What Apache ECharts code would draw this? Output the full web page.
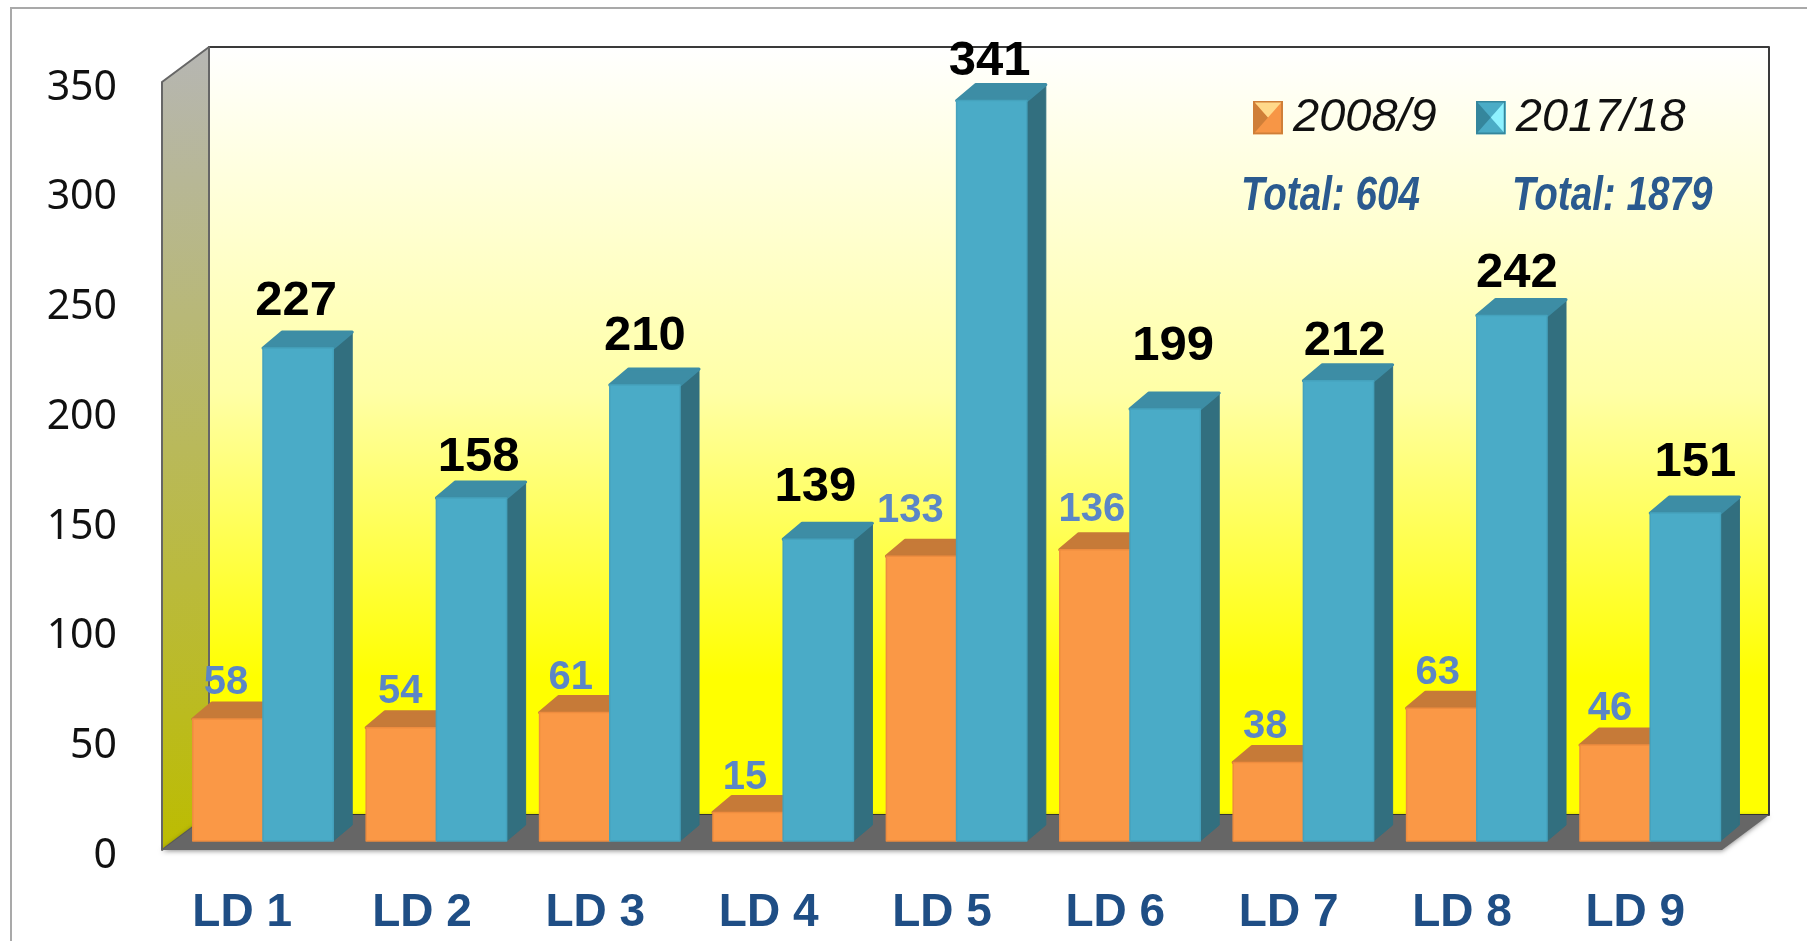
<!DOCTYPE html>
<html>
<head>
<meta charset="utf-8">
<style>
  html, body { margin: 0; padding: 0; background: #fff; }
  #main { width: 1807px; height: 941px; }
</style>
<script src="https://cdn.jsdelivr.net/npm/echarts@6/dist/echarts.min.js"></script>
</head>
<body>
<div id="main"></div>
<script>
var categories = ['LD 1', 'LD 2', 'LD 3', 'LD 4', 'LD 5', 'LD 6', 'LD 7', 'LD 8', 'LD 9'];
var values2008 = [58, 54, 61, 15, 133, 136, 38, 63, 46];
var values2017 = [227, 158, 210, 139, 341, 199, 212, 242, 151];
var seriesNames = ['2008/9', '2017/18'];
var totals = ['Total: 604', 'Total: 1879'];

// the value labels were placed by hand in the original, so each one has its own nudge
var labelShift2008 = [-2, -1, -4, -3, -11, -3, -3, -4, -5];
var labelRise2008 = [36, 36, 35, 34, 45, 40, 36, 35, 36];
var labelShift2017 = [-2, 7, 0, -3, -2, 8, 6, 5, 10];
var labelRise2017 = [47, 40, 49, 52, 39, 62, 39, 42, 51];

var DEPTH_X = 19, DEPTH_Y = 16;     // bar depth
var WALL_X = 47, WALL_Y = 35;       // depth of the chart box

function poly(points, fill, extra) {
  var shape = { type: 'polygon', shape: { points: points }, style: { fill: fill, lineJoin: 'round' } };
  if (extra) for (var k in extra) shape.style[k] = extra[k];
  return shape;
}

function renderFrame(params, api) {
  var c = params.coordSys;
  var l = c.x, r = c.x + c.width, t = c.y, b = c.y + c.height;
  return {
    type: 'group',
    children: [
      poly([[l + WALL_X, t - WALL_Y], [r + WALL_X, t - WALL_Y], [r + WALL_X, b - WALL_Y], [l + WALL_X, b - WALL_Y]], {
        type: 'linear', x: 0, y: 0, x2: 0, y2: 1,
        colorStops: [
          { offset: 0, color: '#ffffff' },
          { offset: 0.45, color: '#ffffa6' },
          { offset: 0.82, color: '#ffff00' },
          { offset: 1, color: '#ffff00' }
        ]
      }, { stroke: '#3a3a3a', lineWidth: 2 }),
      poly([[l, t], [l + WALL_X, t - WALL_Y], [l + WALL_X, b - WALL_Y], [l, b]], {
        type: 'linear', x: 0, y: 0, x2: 0.25, y2: 1,
        colorStops: [
          { offset: 0, color: '#b6b6b4' },
          { offset: 1, color: '#bcbc00' }
        ]
      }, { stroke: '#666666', lineWidth: 2 }),
      poly([[l, b], [l + WALL_X, b - WALL_Y], [r + WALL_X, b - WALL_Y], [r, b]], '#666666', {
        shadowBlur: 5, shadowColor: 'rgba(0,0,0,0.45)', shadowOffsetY: 1
      })
    ]
  };
}

function makeBarRenderer(slot, colors, shift, rise, font, labelColor, topInset) {
  return function (params, api) {
    var idx = api.value(0), val = api.value(1);
    var band = api.size([1, 0])[0];
    var w = band * 0.405;
    var top = api.coord([idx, val]);
    var base = api.coord([idx, 0]);
    var x0 = top[0] + slot * w, x1 = x0 + w;
    var y0 = top[1] + topInset, y1 = base[1];
    return {
      type: 'group',
      children: [
        poly([[x1, y0], [x1 + DEPTH_X, y0 - DEPTH_Y], [x1 + DEPTH_X, y1 - DEPTH_Y], [x1, y1]], colors.side,
          { stroke: colors.side, lineWidth: 1 }),
        poly([[x0, y0], [x0 + DEPTH_X, y0 - DEPTH_Y], [x1 + DEPTH_X, y0 - DEPTH_Y], [x1, y0]], colors.top,
          { stroke: colors.top, lineWidth: 3 }),
        poly([[x0, y0], [x1, y0], [x1, y1], [x0, y1]], colors.front,
          { stroke: colors.edge, lineWidth: 1.5 }),
        {
          type: 'text',
          z2: 10,
          style: {
            text: String(val),
            x: (x0 + x1) / 2 + shift[idx],
            y: y0 - rise[idx],
            align: 'center',
            verticalAlign: 'middle',
            font: font,
            fill: labelColor
          }
        }
      ]
    };
  };
}

function toPairs(values) {
  return values.map(function (v, i) { return [i, v]; });
}

function swatch(base, dark, light, points) {
  var svg = '<svg xmlns="http://www.w3.org/2000/svg" width="30" height="34" viewBox="0 0 30 34">' +
    '<rect width="30" height="34" fill="' + base + '"/>' +
    '<polygon points="0,0 15,17 0,34" fill="' + dark + '"/>' +
    '<polygon points="' + points + '" fill="' + light + '"/>' +
    '<rect x="1" y="1" width="28" height="32" fill="none" stroke="' + dark + '" stroke-width="2"/></svg>';
  return 'image://data:image/svg+xml;charset=utf-8,' + encodeURIComponent(svg);
}

function totalText(text, x) {
  return {
    type: 'text',
    silent: true,
    z: 5,
    x: x,
    y: 197,
    scaleX: 0.805,
    style: {
      text: text,
      verticalAlign: 'middle',
      font: 'italic bold 48px "Liberation Sans"',
      fill: '#2a5a8f'
    }
  };
}

var chart = echarts.init(document.getElementById('main'));
chart.setOption({
  animation: false,
  backgroundColor: '#ffffff',
  textStyle: { fontFamily: '"Liberation Sans", Arial, sans-serif' },
  grid: [
    { left: 162, right: 85, top: 82, bottom: 91 },
    { left: 176.3, width: 1560.6, top: 81, bottom: 100 }
  ],
  xAxis: [
    {
      type: 'category',
      gridIndex: 0,
      data: categories,
      axisLine: { show: false },
      axisTick: { show: false },
      axisLabel: {
        interval: 0,
        margin: 40,
        formatter: function (v, i) {
          // the first label sits a bit left of its slot in the original
          return i === 0 ? '{first|' + v + '}' : '{cat|' + v + '}';
        },
        rich: {
          cat: { fontFamily: '"Liberation Sans"', fontWeight: 'bold', fontSize: 46, color: '#1f4e85' },
          first: { fontFamily: '"Liberation Sans"', fontWeight: 'bold', fontSize: 46, color: '#1f4e85', padding: [0, 13, 0, 0] }
        }
      }
    },
    {
      type: 'category',
      gridIndex: 1,
      data: categories,
      show: false
    }
  ],
  yAxis: [
    {
      type: 'value',
      gridIndex: 0,
      min: 0,
      max: 350,
      interval: 50,
      axisLine: { show: false },
      axisTick: { show: false },
      splitLine: { show: false },
      axisLabel: {
        margin: 45,
        formatter: '{tick|{value}}',
        rich: {
          tick: { fontFamily: '"Noto Sans"', fontSize: 41, color: '#111111', padding: [12, 0, 0, 0] }
        }
      }
    },
    {
      type: 'value',
      gridIndex: 1,
      min: 0,
      max: 350,
      interval: 50,
      show: false
    }
  ],
  legend: {
    left: 1253,
    top: 94,
    padding: 0,
    itemWidth: 30,
    itemHeight: 34,
    itemGap: 39,
    selectedMode: false,
    data: [
      { name: seriesNames[0], icon: swatch('#f79646', '#cf7f38', '#ffd98a', '0,0 30,0 15,17') },
      { name: seriesNames[1], icon: swatch('#4bacc6', '#35869c', '#8ef2ff', '30,0 30,34 15,17') }
    ],
    textStyle: {
      fontFamily: '"Liberation Sans"',
      fontStyle: 'italic',
      fontSize: 47,
      color: '#111111',
      padding: [0, 0, 0, 5]
    }
  },
  graphic: [
    {
      type: 'polyline',
      silent: true,
      z: 5,
      shape: { points: [[11, 941], [11, 8], [1807, 8]] },
      style: { stroke: '#a9a9a9', lineWidth: 2, fill: 'none' }
    },
    totalText(totals[0], 1241),
    totalText(totals[1], 1512)
  ],
  series: [
    {
      name: 'frame',
      type: 'custom',
      xAxisIndex: 0,
      yAxisIndex: 0,
      silent: true,
      z: 1,
      data: [[0, 0]],
      renderItem: renderFrame
    },
    {
      name: seriesNames[0],
      type: 'custom',
      xAxisIndex: 1,
      yAxisIndex: 1,
      silent: true,
      z: 2,
      itemStyle: { color: '#f79646' },
      encode: { x: 0, y: 1 },
      data: toPairs(values2008),
      renderItem: makeBarRenderer(-1, { front: '#fa9846', top: '#c67a38', side: '#b56f33', edge: '#ee8c3f' },
        labelShift2008, labelRise2008, 'bold 40px "Liberation Sans"', '#5b86c6', 4)
    },
    {
      name: seriesNames[1],
      type: 'custom',
      xAxisIndex: 1,
      yAxisIndex: 1,
      silent: true,
      z: 3,
      itemStyle: { color: '#4bacc6' },
      encode: { x: 0, y: 1 },
      data: toPairs(values2017),
      renderItem: makeBarRenderer(0, { front: '#4aabc7', top: '#3d8da5', side: '#326f7f', edge: '#45a2bd' },
        labelShift2017, labelRise2017, 'bold 49px "Liberation Sans"', '#000000', 0)
    }
  ]
});
</script>
</body>
</html>
